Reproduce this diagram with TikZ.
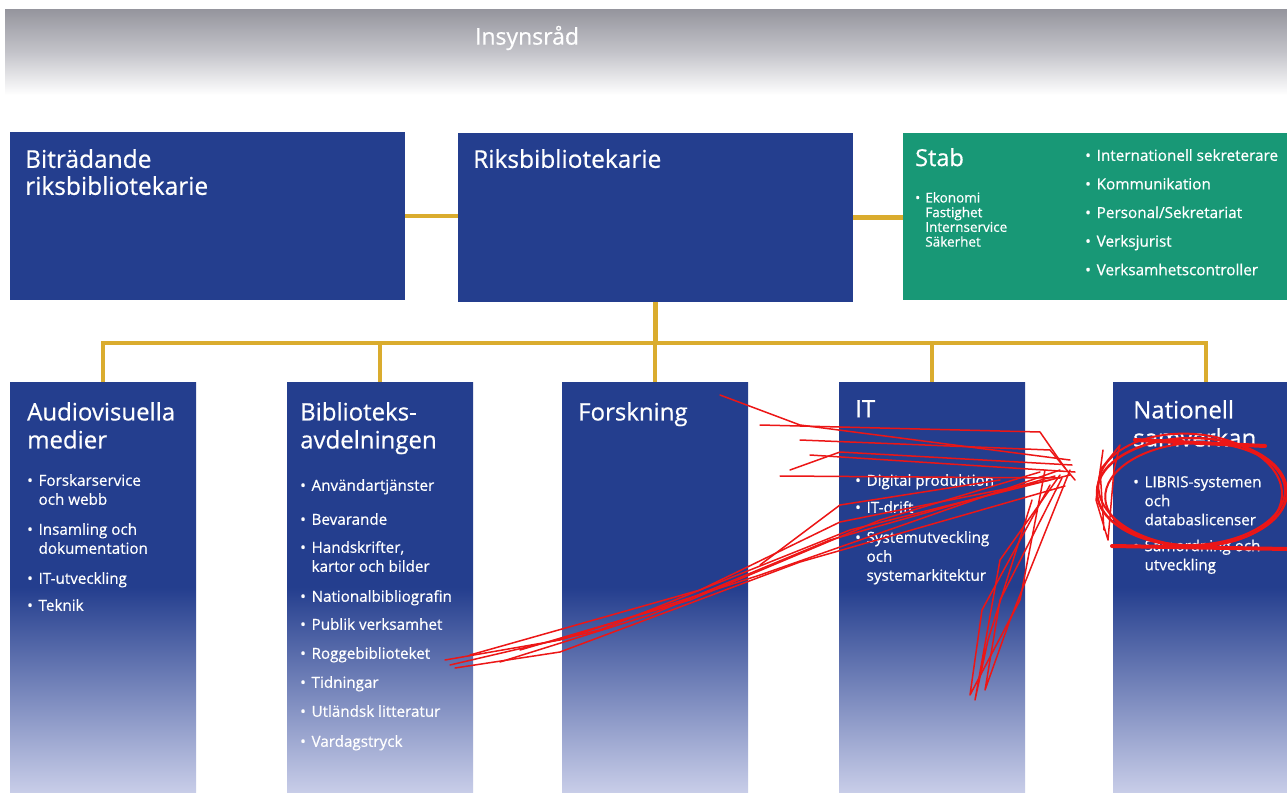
\documentclass[tikz,border=0pt]{standalone}
\usepackage{fontspec}
\setmainfont{Open Sans}[FakeBold=0.6]
\usetikzlibrary{calc}
\definecolor{nblue}{RGB}{36,62,142}
\definecolor{nlight}{RGB}{200,205,232}
\definecolor{sgreen}{RGB}{24,152,118}
\definecolor{gold}{RGB}{218,172,46}
\definecolor{bgray}{RGB}{150,150,158}
\definecolor{bmid}{RGB}{196,196,202}
\definecolor{scrib}{RGB}{236,22,22}
\newcommand\bl{\makebox[0.75em][l]{•}}
\newcommand\ind{\hspace*{0.75em}}
\tikzset{
 topbox/.style={rectangle, fill=nblue, draw=none, anchor=north west, inner sep=0},
 colbox/.style={rectangle, top color=nblue, bottom color=nlight, middle color=nblue, draw=none, anchor=north west, inner sep=0, minimum width=186, minimum height=410},
 conn/.style={draw=gold, line width=4.5pt},
 title/.style={anchor=north west, inner sep=0, text=white, align=left, font=\fontsize{24}{28}\selectfont},
 items/.style={anchor=north west, inner sep=0, text=white, align=left, font=\fontsize{15.2}{19}\selectfont},
 redline/.style={draw=scrib, line width=1.5pt, line join=round, line cap=round},
}
\begin{document}
\begin{tikzpicture}[x=1pt,y=-1pt]
\useasboundingbox (0,0) rectangle (1287,792);
\clip (0,0) rectangle (1287,792);
\fill[white] (0,0) rectangle (1287,792);
% banner
\shade[top color=bgray, bottom color=white, middle color=bmid] (5,10) rectangle (1287,95);
\node[text=white, font=\fontsize{23}{26}\selectfont, inner sep=0] (ins) at (527,38) {Insynsråd};
% top boxes
\node[topbox, minimum width=395, minimum height=168] (bit) at (10,132) {};
\node[topbox, minimum width=395, minimum height=169] (riks) at (458,133) {};
\node[topbox, fill=sgreen, minimum width=392, minimum height=167] (stab) at (903,133) {};
% columns
\node[colbox] (av) at (10,382) {};
\node[colbox] (bib) at (287,382) {};
\node[colbox] (fo) at (562,382) {};
\node[colbox] (it) at (839,382) {};
\node[colbox] (nat) at (1113,382) {};
% connectors
\coordinate (bar) at (655,343);
\draw[conn] (bit.east) -- (bit.east -| riks.west);
\draw[conn] (riks.east) -- (riks.east -| stab.west);
\draw[conn] (riks.south) -- (riks.south |- bar);
\draw[conn] (av.north) -- (av.north |- bar) -- (nat.north |- bar) -- (nat.north);
\draw[conn] (bib.north |- bar) -- (bib.north);
\draw[conn] (fo.north |- bar) -- (fo.north);
\draw[conn] (it.north |- bar) -- (it.north);
% top texts
\node[title, font=\fontsize{24.5}{27}\selectfont] (tbit) at ($(bit.north west)+(15,17)$) {Biträdande\\riksbibliotekarie};
\node[title, font=\fontsize{24.5}{27}\selectfont] (triks) at ($(riks.north west)+(15,16)$) {Riksbibliotekarie};
\node[title, font=\fontsize{23.5}{27}\selectfont] (tstab) at ($(stab.north west)+(12,15)$) {Stab};
\node[items, font=\fontsize{13.5}{14.7}\selectfont] (stabl) at ($(stab.north west)+(12,59)$) {\bl Ekonomi\\\ind Fastighet\\\ind Internservice\\\ind Säkerhet};
\node[items, font=\fontsize{15.3}{28.6}\selectfont] (stabr) at ($(stab.north west)+(182,16)$) {\bl Internationell sekreterare\\\bl Kommunikation\\\bl Personal/Sekretariat\\\bl Verksjurist\\\bl Verksamhetscontroller};
% column titles
\node[title] (tav) at ($(av.north west)+(17,20)$) {Audiovisuella\\medier};
\node[title] (tbib) at ($(bib.north west)+(13,20)$) {Biblioteks-\\avdelningen};
\node[title] (tfo) at ($(fo.north west)+(16,20)$) {Forskning};
\node[title] (tit) at ($(it.north west)+(16,18)$) {IT};
\node[title] (tnat) at ($(nat.north west)+(20,18)$) {Nationell\\samverkan};
% column items
\node[items] (iav) at ($(av.north west)+(17,92)$) {\bl Forskarservice\\\ind och webb\\[11pt]\bl Insamling och\\\ind dokumentation\\[11pt]\bl IT-utveckling\\[8pt]\bl Teknik};
\node[items] (ibib) at ($(bib.north west)+(13,97)$) {\bl Användartjänster\\[15pt]\bl Bevarande\\[9pt]\bl Handskrifter,\\\ind kartor och bilder\\[11pt]\bl Nationalbibliografin\\[9pt]\bl Publik verksamhet\\[10pt]\bl Roggebiblioteket\\[10pt]\bl Tidningar\\[10pt]\bl Utländsk litteratur\\[11pt]\bl Vardagstryck};
\node[items] (iit) at ($(it.north west)+(16,92)$) {\bl Digital produktion\\[8pt]\bl IT-drift\\[11pt]\bl Systemutveckling\\\ind och\\\ind systemarkitektur};
\node[items] (inat) at ($(nat.north west)+(20,94)$) {\bl LIBRIS-systemen\\\ind och\\\ind databaslicenser\\[7pt]\bl Samordning och\\\ind utveckling};
% red scribbles
\draw[redline] (445,660) -- (560,640) -- (760,575) -- (1060,470);
\draw[redline] (450,665) -- (600,630) -- (850,530) -- (1070,475);
\draw[redline] (470,655) -- (700,590) -- (840,522) -- (1050,480);
\draw[redline] (455,668) -- (560,652) -- (800,562) -- (1065,486);
\draw[redline] (520,650) -- (690,600) -- (880,520) -- (1040,472);
\draw[redline] (500,662) -- (650,615) -- (830,540) -- (1055,476);
\draw[redline] (760,565) -- (840,505) -- (1000,480);
\draw[redline] (720,395) -- (800,425) -- (1070,460);
\draw[redline] (760,425) -- (1040,432) -- (1065,468);
\draw[redline] (790,470) -- (840,452) -- (1072,465);
\draw[redline] (780,476) -- (1060,478);
\draw[redline] (810,455) -- (1075,472);
\draw[redline] (800,440) -- (1050,450) -- (1075,480);
\draw[redline] (1060,475) -- (1000,560) -- (975,700) -- (988,640) -- (1032,500);
\draw[redline] (1045,470) -- (1020,600) -- (970,695) -- (982,610) -- (1050,485);
\draw[redline] (1070,470) -- (1010,620) -- (985,690) -- (1000,600) -- (1062,478);
\draw[redline, line width=2.5pt] (1192,492) ellipse [x radius=95, y radius=54];
\draw[redline, line width=2pt, rotate around={-4:(1192,492)}] (1190,490) ellipse [x radius=92, y radius=56];
\draw[redline, line width=2pt, rotate around={3:(1192,492)}] (1195,494) ellipse [x radius=90, y radius=51];
\draw[redline] (1103,450) -- (1096,500) -- (1108,540) -- (1114,470) -- (1120,445) -- (1100,470) -- (1104,530);
\draw[draw=scrib, line width=4pt, line cap=round] (1135,440) -- (1265,446);
\draw[draw=scrib, line width=4pt, line cap=round] (1112,546) -- (1287,549);
\end{tikzpicture}
\end{document}
